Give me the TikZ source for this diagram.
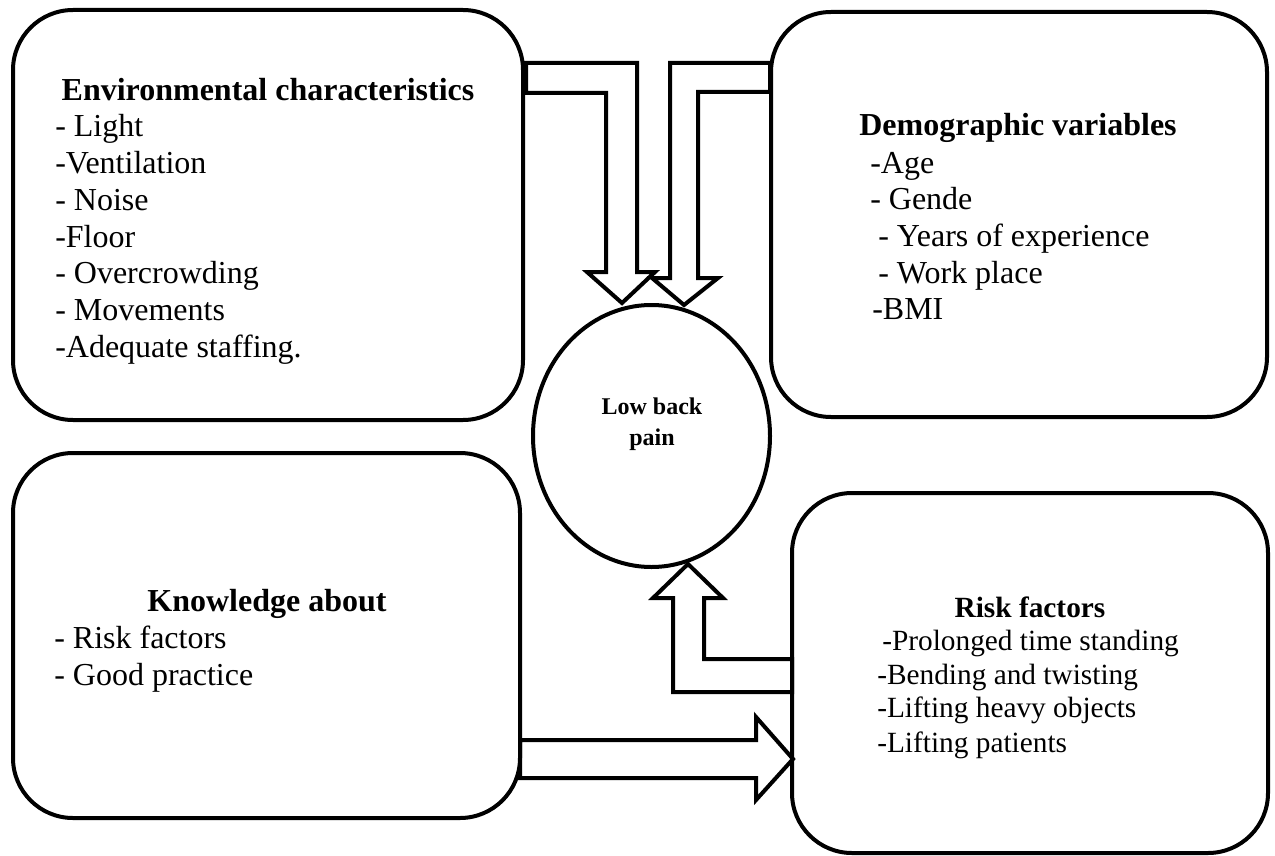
\documentclass[tikz,border=0pt]{standalone}
\usepackage{fontspec}
\setmainfont{Liberation Serif}
\usetikzlibrary{shapes.geometric}
\begin{document}
\begin{tikzpicture}[x=0.75pt,y=-0.75pt,
  box/.style={draw, line width=3pt, rounded corners=45pt, rectangle, inner sep=0pt, outer sep=0pt},
  blk/.style={draw, line width=3pt, line join=miter, miter limit=10},
  hd/.style={font=\bfseries\fontsize{24}{29}\selectfont, anchor=base, inner sep=0pt},
  tx/.style={font=\fontsize{24}{29}\selectfont, anchor=base west, inner sep=0pt},
  hds/.style={font=\bfseries\fontsize{22}{26}\selectfont, anchor=base, inner sep=0pt},
  txs/.style={font=\fontsize{22}{26}\selectfont, anchor=base west, inner sep=0pt},
  lb/.style={font=\bfseries\fontsize{18}{22}\selectfont, anchor=base, inner sep=0pt}]
\useasboundingbox (0,0) rectangle (1275,856);
\fill[white] (0,0) rectangle (1275,856);

% boxes
\node[box, minimum width={510*0.75pt}, minimum height={410*0.75pt}] (env) at (268,215) {};
\node[box, minimum width={496*0.75pt}, minimum height={405*0.75pt}] (demo) at (1019,214.5) {};
\node[box, minimum width={507*0.75pt}, minimum height={365*0.75pt}] (know) at (266.5,635.5) {};
\node[box, minimum width={476*0.75pt}, minimum height={360*0.75pt}] (risk) at (1030,673) {};
\node[draw, ellipse, line width=3pt, inner sep=0pt, outer sep=0pt,
      minimum width={237*0.75pt}, minimum height={262*0.75pt}] (lbp) at (651.5,436) {};

% environmental
\node[hd] (envh) at (268,100) {Environmental characteristics};
\node[tx] (e1) at (55,137) {- Light};
\node[tx] (e2) at (55,173) {-Ventilation};
\node[tx] (e3) at (55,210) {- Noise};
\node[tx] (e4) at (55,247) {-Floor};
\node[tx] (e5) at (55,283) {- Overcrowding};
\node[tx] (e6) at (55,320) {- Movements};
\node[tx] (e7) at (55,357) {-Adequate staffing.};

% demographic
\node[hd] (demoh) at (1018,136) {Demographic variables};
\node[tx] (d1) at (870,173) {-Age};
\node[tx] (d2) at (870,209) {- Gende};
\node[tx] (d3) at (878,246) {- Years of experience};
\node[tx] (d4) at (878,283) {- Work place};
\node[tx] (d5) at (872,319) {-BMI};

% knowledge
\node[hd] (knowh) at (267,611) {Knowledge about};
\node[tx] (k1) at (54,648) {- Risk factors};
\node[tx] (k2) at (54,685) {- Good practice};

% risk factors
\node[hds] (riskh) at (1030,617) {Risk factors};
\node[txs] (r1) at (882,650) {-Prolonged time standing};
\node[txs] (r2) at (877,684) {-Bending and twisting};
\node[txs] (r3) at (877,717) {-Lifting heavy objects};
\node[txs] (r4) at (877,752) {-Lifting patients};

% centre
\node[lb] (lbp1) at (652,414) {Low back};
\node[lb] (lbp2) at (652,445) {pain};

% block arrows
\draw[blk] (526,63) -- (637,63) -- (637,272) -- (655,272) -- (622,303) -- (587,272) -- (606,272) -- (606,93) -- (526,93) -- cycle;
\draw[blk] (770,63) -- (670,63) -- (670,278) -- (652,278) -- (684,305) -- (718,278) -- (698,278) -- (698,92) -- (770,92) -- cycle;
\draw[blk] (792,659) -- (704,659) -- (704,598) -- (723,598) -- (688,564) -- (653,598) -- (673,598) -- (673,692) -- (792,692) -- cycle;
\draw[blk] (520,740) -- (756,740) -- (756,717) -- (793,759) -- (756,800) -- (756,778) -- (520,778) -- cycle;
\end{tikzpicture}
\end{document}
